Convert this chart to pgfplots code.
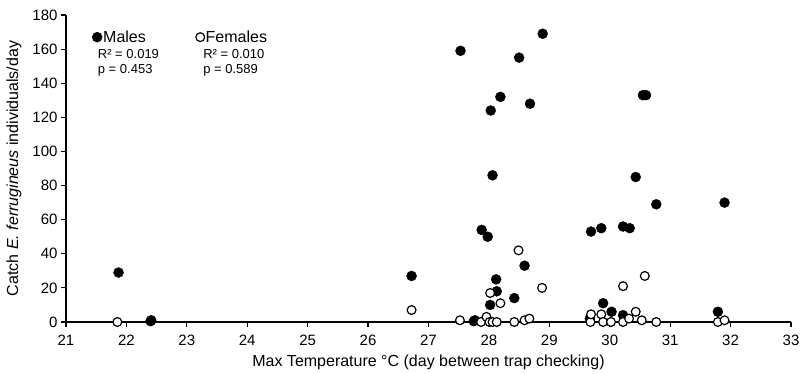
\documentclass[border=0pt]{standalone}
\usepackage{pgfplots}
\pgfplotsset{compat=1.18}
\usepackage{fontspec}
\setmainfont{Liberation Sans}

\pgfplotstableread{
x y
21.87 29
22.40 0.5
22.41 1
26.72 27
27.53 159
27.75 0.5
27.77 1
27.88 54
27.98 50
28.02 10
28.03 124
28.06 86
28.12 25
28.13 18
28.19 132
28.42 14
28.50 155
28.59 33
28.68 128
28.89 169
29.67 2
29.69 53
29.86 55
29.89 11
30.03 6
30.22 56
30.22 4
30.33 55
30.43 85
30.55 133
30.60 133
30.77 69
31.79 6
31.90 70
}\males

\pgfplotstableread{
x y
21.85 0
26.72 7
27.52 1
27.87 0
27.96 3
28.01 0
28.02 17
28.06 0
28.13 0
28.19 11
28.42 0
28.49 42
28.59 1
28.67 2
28.88 20
29.68 0
29.69 4.5
29.86 4.5
29.89 0
30.02 0
30.22 0
30.22 21
30.32 2
30.43 6
30.53 1
30.58 27
30.77 0
31.79 0
31.90 1
}\females

\begin{document}
\begin{tikzpicture}
\begin{axis}[
  scale only axis, width=725pt, height=307pt,
  xmin=21, xmax=33, ymin=0, ymax=180,
  xtick={21,...,33}, ytick={0,20,...,180},
  axis x line*=bottom, axis y line*=left,
  axis line style={line width=1.2pt, black},
  tick style={line width=1.2pt, black},
  tick align=outside, major tick length=5pt,
  tick label style={font=\fontsize{15}{17}\selectfont},
  xticklabel style={yshift=-4pt},
  /pgf/number format/assume math mode=true,
  xlabel={Max Temperature °C (day between trap checking)},
  ylabel={Catch \textit{E. ferrugineus} individuals/day},
  label style={font=\fontsize{16}{18}\selectfont},
  xlabel style={at={(axis description cs:0.5,0)}, anchor=center, yshift=-40pt},
  ylabel style={at={([xshift=-52pt]axis description cs:0,0.5)}, anchor=center},
  clip=false,
  legend style={at={(axis cs:21.43,167)}, anchor=west, draw=none, fill=none,
    font=\fontsize{16}{18}\selectfont, inner sep=0pt,
    nodes={inner sep=1pt},
    /tikz/every even column/.append style={column sep=49pt}},
  legend columns=2,
  legend cell align=left,
  legend image code/.code={\draw[mark repeat=2,mark phase=2,#1] plot coordinates {(0pt,0pt)(5pt,0pt)(10pt,0pt)};},
]
\addplot[only marks, mark=*, mark size=5pt, black] table {\males};
\addlegendentry{Males}
\addplot[only marks, mark=*, mark size=4.4pt, mark options={fill=white, draw=black, line width=1.2pt}] table {\females};
\addlegendentry{Females}
\node[anchor=west, inner sep=0pt, align=left, font=\fontsize{13}{15.5}\selectfont] at (axis cs:21.525,152) {R² = 0.019\\p = 0.453};
\node[anchor=west, inner sep=0pt, align=left, font=\fontsize{13}{15.5}\selectfont] at (axis cs:23.27,152) {R² = 0.010\\p = 0.589};
\end{axis}
\pgfresetboundingbox
\path ([xshift=-66pt,yshift=-52pt]current axis.south west) rectangle ([xshift=21pt,yshift=15pt]current axis.north east);
\end{tikzpicture}
\end{document}
